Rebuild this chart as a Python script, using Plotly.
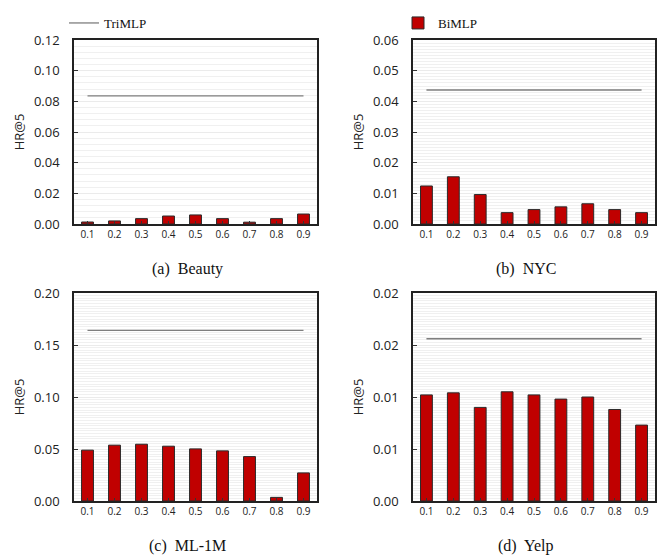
import plotly.graph_objects as go

# ---- data ----
ratios = ["0.1", "0.2", "0.3", "0.4", "0.5", "0.6", "0.7", "0.8", "0.9"]

beauty_bimlp = [0.0013, 0.0020, 0.0035, 0.0052, 0.0059, 0.0035, 0.0012, 0.0035, 0.0065]
nyc_bimlp = [0.0124, 0.0154, 0.0096, 0.0037, 0.0047, 0.0056, 0.0066, 0.0047, 0.0037]
ml1m_bimlp = [0.0489, 0.0537, 0.0546, 0.0527, 0.0501, 0.0482, 0.0427, 0.0035, 0.0270]
yelp_bimlp = [0.0102, 0.0104, 0.0090, 0.0105, 0.0102, 0.0098, 0.0100, 0.0088, 0.0073]

beauty_trimlp = 0.0835
nyc_trimlp = 0.0437
ml1m_trimlp = 0.164
yelp_trimlp = 0.0156

beauty_ticks = [0.00, 0.02, 0.04, 0.06, 0.08, 0.10, 0.12]
beauty_ticktext = ["0.00", "0.02", "0.04", "0.06", "0.08", "0.10", "0.12"]
nyc_ticks = [0.00, 0.01, 0.02, 0.03, 0.04, 0.05, 0.06]
nyc_ticktext = ["0.00", "0.01", "0.02", "0.03", "0.04", "0.05", "0.06"]
ml1m_ticks = [0.00, 0.05, 0.10, 0.15, 0.20]
ml1m_ticktext = ["0.00", "0.05", "0.10", "0.15", "0.20"]
yelp_ticks = [0.000, 0.005, 0.010, 0.015, 0.020]
yelp_ticktext = ["0.00", "0.01", "0.01", "0.02", "0.02"]

captions = ["(a)  Beauty", "(b)  NYC", "(c)  ML-1M", "(d)  Yelp"]

# ---- layout geometry (page pixels; page body has an 8px margin) ----
OFF = 8
W, H = 665 - OFF, 559 - OFF
panels = [
    dict(vals=beauty_bimlp, tri=beauty_trimlp, ticks=beauty_ticks, tt=beauty_ticktext,
         rng=[0, 0.12], minor=0.004, px=(74, 317), py=(40, 224)),
    dict(vals=nyc_bimlp, tri=nyc_trimlp, ticks=nyc_ticks, tt=nyc_ticktext,
         rng=[0, 0.06], minor=0.001, px=(413, 655), py=(40, 224)),
    dict(vals=ml1m_bimlp, tri=ml1m_trimlp, ticks=ml1m_ticks, tt=ml1m_ticktext,
         rng=[0, 0.20], minor=0.0025, px=(74, 317), py=(293, 501)),
    dict(vals=yelp_bimlp, tri=yelp_trimlp, ticks=yelp_ticks, tt=yelp_ticktext,
         rng=[0, 0.02], minor=0.00025, px=(413, 655), py=(293, 501)),
]


def fx(px):
    return (px - OFF) / W


def fy(py):
    return 1 - (py - OFF) / H


BAR = "#C00000"
LINE = "#7f7f7f"
TICKFONT = "Open Sans"
SERIF = "Liberation Serif"

fig = go.Figure()
layout = {}
annotations = []

for i, p in enumerate(panels):
    n = "" if i == 0 else str(i + 1)
    xa, ya = "x" + n, "y" + n
    fig.add_trace(go.Bar(
        x=ratios, y=p["vals"], xaxis=xa, yaxis=ya,
        name="BiMLP", legend="legend2", showlegend=(i == 0),
        marker=dict(color=BAR, line=dict(color="#2a2a2a", width=1)),
    ))
    fig.add_trace(go.Scatter(
        x=[ratios[0], ratios[-1]], y=[p["tri"], p["tri"]], xaxis=xa, yaxis=ya,
        mode="lines", name="TriMLP", legend="legend", showlegend=(i == 0),
        line=dict(color=LINE, width=1.3),
    ))
    x0, x1 = p["px"]
    y0, y1 = p["py"]
    layout["xaxis" + n] = dict(
        domain=[fx(x0), fx(x1)], anchor=ya, type="category", automargin=False,
        showline=True, linecolor="#222", linewidth=1.5, mirror=True,
        ticks="inside", ticklen=3, tickcolor="#333",
        tickfont=dict(family=TICKFONT, size=10, color="#222"),
        showgrid=False, fixedrange=True,
    )
    layout["yaxis" + n] = dict(
        domain=[fy(y1), fy(y0)], anchor=xa, range=p["rng"], automargin=False,
        tickvals=p["ticks"], ticktext=p["tt"],
        showline=True, linecolor="#222", linewidth=1.5, mirror=True,
        ticks="inside", ticklen=4, tickcolor="#333",
        ticklabelstandoff=10,
        tickfont=dict(family=TICKFONT, size=13, color="#222"),
        showgrid=True, gridcolor="#ebebeb", gridwidth=1,
        minor=dict(dtick=p["minor"], showgrid=True, gridcolor="#f0f0f0", gridwidth=1, ticks=""),
        zeroline=False,
        title=dict(text="HR@5", font=dict(family=TICKFONT, size=13, color="#222"), standoff=6),
    )
    annotations.append(dict(
        text=captions[i], xref="paper", yref="paper",
        x=fx((x0 + x1) / 2 - 8), y=fy(y1 + 45),
        xanchor="center", yanchor="middle", showarrow=False,
        font=dict(family=SERIF, size=16, color="#111"),
    ))

fig.update_layout(
    width=W, height=H,
    margin=dict(l=0, r=0, t=0, b=0),
    paper_bgcolor="white", plot_bgcolor="white",
    bargap=0.56,
    annotations=annotations,
    legend=dict(x=fx(64), y=1, xanchor="left", yanchor="top",
                font=dict(family=SERIF, size=13, color="#111"),
                itemwidth=30, bgcolor="rgba(0,0,0,0)"),
    legend2=dict(x=fx(398), y=1, xanchor="left", yanchor="top",
                 font=dict(family=SERIF, size=13, color="#111"),
                 itemwidth=30, bgcolor="rgba(0,0,0,0)"),
    **layout,
)

fig.write_html("out.html")
